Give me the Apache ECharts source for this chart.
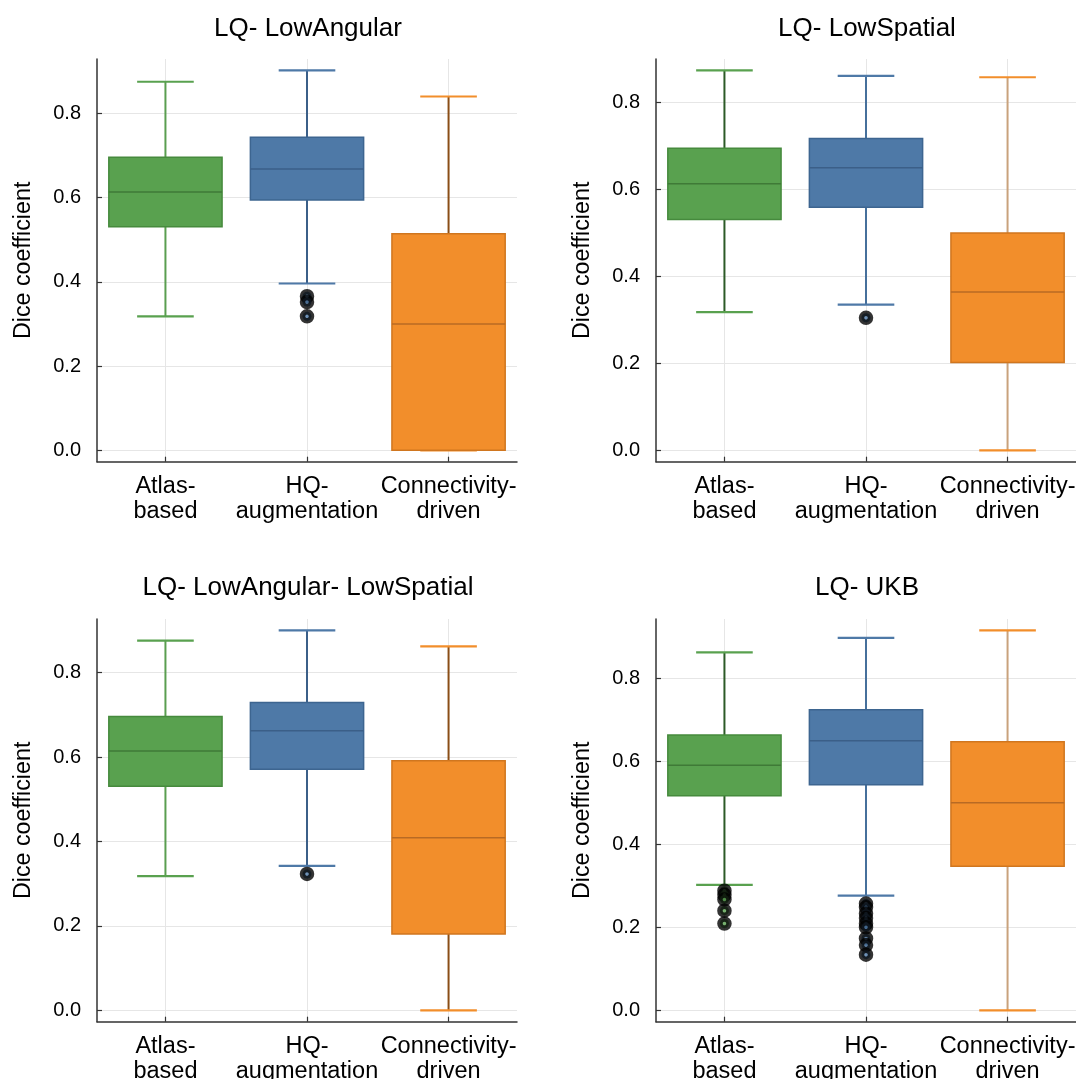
<!DOCTYPE html>
<html>
<head>
<meta charset="utf-8">
<title>Dice coefficient by method</title>
<script src="https://cdn.jsdelivr.net/npm/echarts@6/dist/echarts.min.js"></script>
<style>
  html, body { margin: 0; padding: 0; background: #ffffff; }
  #chart { width: 1076px; height: 1079px; }
</style>
</head>
<body>
<div id="chart"></div>
<script>
// ---- data ----------------------------------------------------------------
const categories = ['Atlas-\nbased', 'HQ-\naugmentation', 'Connectivity-\ndriven'];
const panelTitles = ['LQ- LowAngular', 'LQ- LowSpatial', 'LQ- LowAngular- LowSpatial', 'LQ- UKB'];
const yTickValues = [0, 0.2, 0.4, 0.6, 0.8];

// [lower whisker, Q1, median, Q3, upper whisker] per category
const lowAngularBoxes = [
  [0.318, 0.531, 0.613, 0.696, 0.875],
  [0.396, 0.594, 0.668, 0.743, 0.902],
  [0.000, 0.000, 0.300, 0.514, 0.840]
];
const lowSpatialBoxes = [
  [0.318, 0.531, 0.613, 0.695, 0.874],
  [0.335, 0.559, 0.650, 0.717, 0.861],
  [0.000, 0.202, 0.364, 0.500, 0.858]
];
const lowAngularLowSpatialBoxes = [
  [0.318, 0.531, 0.614, 0.696, 0.876],
  [0.342, 0.571, 0.662, 0.729, 0.900],
  [0.000, 0.181, 0.409, 0.591, 0.862]
];
const ukbBoxes = [
  [0.302, 0.517, 0.590, 0.663, 0.862],
  [0.276, 0.543, 0.649, 0.724, 0.897],
  [0.000, 0.347, 0.500, 0.647, 0.915]
];

// outliers per category
const lowAngularOutliers = [[], [0.366, 0.352, 0.318], []];
const lowSpatialOutliers = [[], [0.305], []];
const lowAngularLowSpatialOutliers = [[], [0.323], []];
const ukbOutliers = [
  [0.288, 0.278, 0.267, 0.240, 0.209],
  [0.257, 0.248, 0.233, 0.222, 0.209, 0.200, 0.173, 0.157, 0.134],
  []
];

// ---- styling ---------------------------------------------------------------
const FONT = '"Liberation Sans", Arial, Helvetica, sans-serif';
const fillColors = ['#59a14f', '#4e79a7', '#f28e2b'];
const borderColors = ['#468a3d', '#3d6590', '#d0761f'];
const medianColors = ['#3f7a37', '#3b5f88', '#b86a24'];
const whiskerColors = [
  ['#5a9e50', '#3b5f88', '#8a4e16'],
  ['#2c5a27', '#46709c', '#c9a27c'],
  ['#5a9e50', '#3b5f88', '#8a4e16'],
  ['#2c5a27', '#46709c', '#c9a27c']
];
const BOX_WIDTH = 0.8;   // in category units
const CAP_WIDTH = 0.4;

const panels = [
  { boxes: lowAngularBoxes, outliers: lowAngularOutliers, yMin: -0.027, yMax: 0.929 },
  { boxes: lowSpatialBoxes, outliers: lowSpatialOutliers, yMin: -0.026, yMax: 0.900 },
  { boxes: lowAngularLowSpatialBoxes, outliers: lowAngularLowSpatialOutliers, yMin: -0.027, yMax: 0.927 },
  { boxes: ukbBoxes, outliers: ukbOutliers, yMin: -0.0275, yMax: 0.9425 }
];

const gridRects = [
  { left: 97, top: 59, width: 420, height: 402.7 },
  { left: 656, top: 59, width: 420, height: 402.7 },
  { left: 97, top: 619, width: 420, height: 402.7 },
  { left: 656, top: 619, width: 420, height: 402.7 }
];
const titleAnchors = [
  { x: 308, y: 16 }, { x: 867, y: 16 }, { x: 308, y: 575 }, { x: 867, y: 575 }
];

const AXIS_COLOR = '#333333';
const GRID_COLOR = '#e6e6e6';

function makeRenderer(panelIdx) {
  return function (params, api) {
    const ci = params.dataIndex;
    const x = api.value(0);
    const lo = api.coord([x, api.value(1)]);
    const q1 = api.coord([x, api.value(2)]);
    const med = api.coord([x, api.value(3)]);
    const q3 = api.coord([x, api.value(4)]);
    const hi = api.coord([x, api.value(5)]);
    const bw = api.size([BOX_WIDTH, 0])[0];
    const cw = api.size([CAP_WIDTH, 0])[0];
    const cx = lo[0];
    const wc = whiskerColors[panelIdx][ci];
    const children = [
      { type: 'line', shape: { x1: cx, y1: lo[1], x2: cx, y2: q1[1] }, style: { stroke: wc, lineWidth: 2 } },
      { type: 'line', shape: { x1: cx, y1: q3[1], x2: cx, y2: hi[1] }, style: { stroke: wc, lineWidth: 2 } },
      { type: 'line', shape: { x1: cx - cw / 2, y1: lo[1], x2: cx + cw / 2, y2: lo[1] }, style: { stroke: fillColors[ci], lineWidth: 2.2 } },
      { type: 'line', shape: { x1: cx - cw / 2, y1: hi[1], x2: cx + cw / 2, y2: hi[1] }, style: { stroke: fillColors[ci], lineWidth: 2.2 } },
      { type: 'rect', shape: { x: cx - bw / 2, y: q3[1], width: bw, height: q1[1] - q3[1] },
        style: { fill: fillColors[ci], stroke: borderColors[ci], lineWidth: 1.5 } },
      { type: 'line', shape: { x1: cx - bw / 2, y1: med[1], x2: cx + bw / 2, y2: med[1] }, style: { stroke: medianColors[ci], lineWidth: 1.5 } }
    ];
    return { type: 'group', children: children };
  };
}

const option = {
  backgroundColor: '#ffffff',
  animation: false,
  title: panelTitles.map((t, i) => ({
    text: t,
    left: titleAnchors[i].x,
    top: titleAnchors[i].y,
    padding: 0,
    textAlign: 'center',
    textStyle: { fontFamily: FONT, fontSize: 26, fontWeight: 'normal', color: '#000000' }
  })),
  grid: gridRects.map(r => Object.assign({ containLabel: false, outerBoundsMode: 'none' }, r)),
  xAxis: panels.map((p, i) => ({
    type: 'value',
    gridIndex: i,
    min: 0.5165,
    max: 3.4835,
    axisLine: { show: true, onZero: false, lineStyle: { color: AXIS_COLOR, width: 1.5 } },
    axisTick: { show: true, inside: true, length: 5, customValues: [1, 2, 3], lineStyle: { color: AXIS_COLOR, width: 1.2 } },
    axisLabel: {
      customValues: [1, 2, 3],
      formatter: v => categories[Math.round(v) - 1],
      fontFamily: FONT, fontSize: 23.5, lineHeight: 25.5, color: '#000000', margin: 12, align: 'center'
    },
    splitLine: { show: true, lineStyle: { color: GRID_COLOR, width: 1 } }
  })),
  yAxis: panels.map((p, i) => ({
    type: 'value',
    gridIndex: i,
    min: p.yMin,
    max: p.yMax,
    name: 'Dice coefficient',
    nameLocation: 'middle',
    nameGap: 62,
    nameTextStyle: { fontFamily: FONT, fontSize: 23.3, color: '#000000' },
    axisLine: { show: true, onZero: false, lineStyle: { color: AXIS_COLOR, width: 1.5 } },
    axisTick: { show: true, inside: true, length: 5, customValues: yTickValues, lineStyle: { color: AXIS_COLOR, width: 1.2 } },
    axisLabel: {
      customValues: yTickValues,
      formatter: v => v.toFixed(1),
      fontFamily: FONT, fontSize: 20, color: '#000000', margin: 16
    },
    splitLine: { show: true, lineStyle: { color: GRID_COLOR, width: 1 } }
  })),
  series: []
};

panels.forEach((p, i) => {
  option.series.push({
    type: 'custom',
    name: panelTitles[i],
    xAxisIndex: i,
    yAxisIndex: i,
    renderItem: makeRenderer(i),
    encode: { x: 0, y: [1, 2, 3, 4, 5] },
    data: p.boxes.map((b, ci) => [ci + 1].concat(b)),
    z: 2
  });
  const pts = [];
  p.outliers.forEach((vals, ci) => {
    vals.forEach(v => pts.push({ value: [ci + 1, v], itemStyle: { color: fillColors[ci] } }));
  });
  option.series.push({
    type: 'scatter',
    xAxisIndex: i,
    yAxisIndex: i,
    symbol: 'circle',
    symbolSize: 9,
    itemStyle: { borderColor: '#000000', borderWidth: 5.5 },
    data: pts,
    z: 3
  });
});

const chart = echarts.init(document.getElementById('chart'), null, { renderer: 'canvas' });
chart.setOption(option);
</script>
</body>
</html>
